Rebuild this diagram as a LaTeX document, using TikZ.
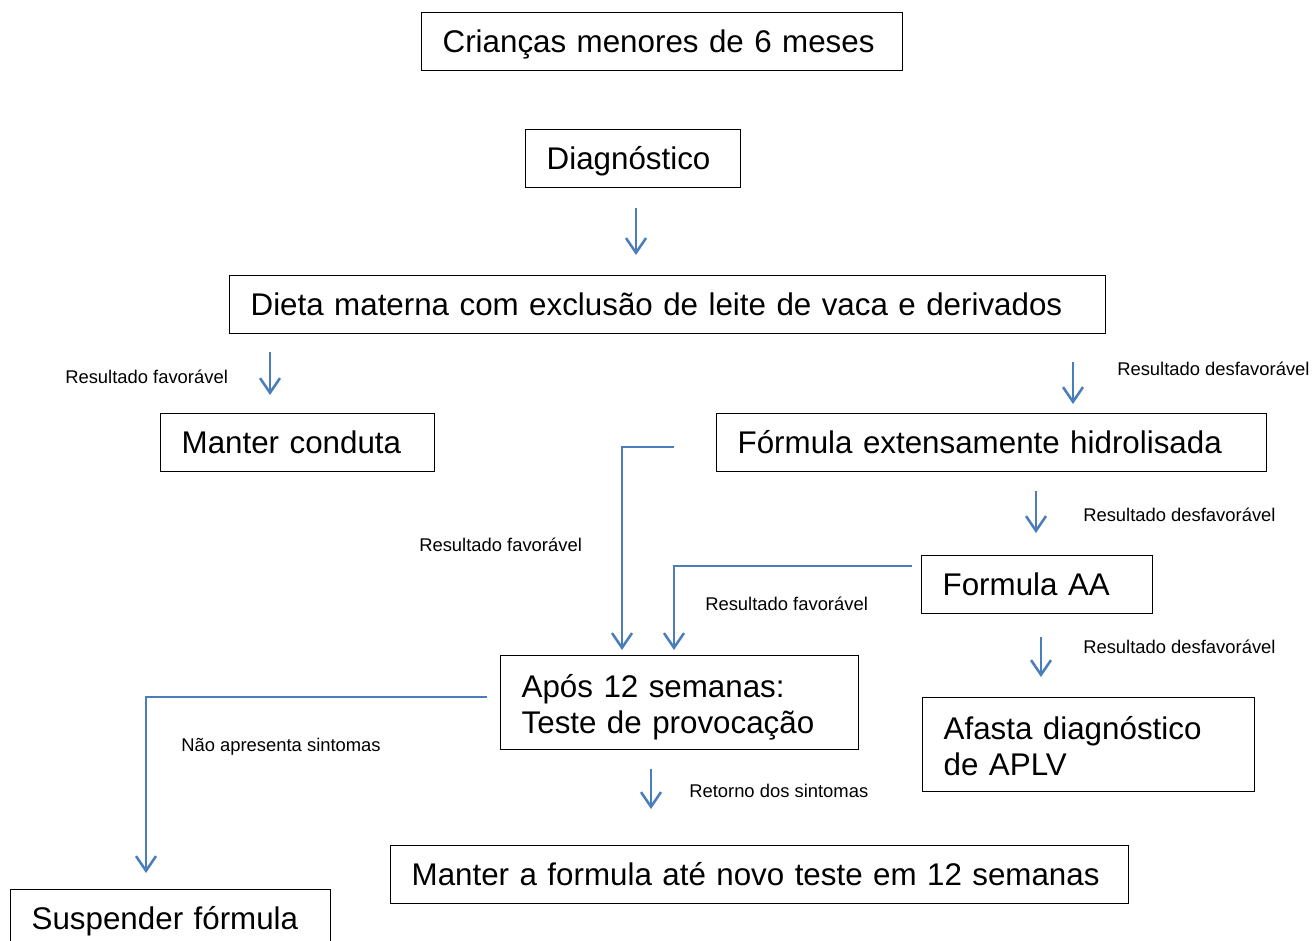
\documentclass[tikz,border=0pt]{standalone}
\usepackage{fontspec}
\setmainfont{Liberation Sans}
\usetikzlibrary{arrows.meta}
\usepackage{xcolor}
\definecolor{setaazul}{HTML}{4A7EBB}

\begin{document}
\begin{tikzpicture}[x=0.75pt, y=-0.75pt]
        % ================= Estilos =================
        \tikzset{
            % caixa: borda preta, texto alinhado à esquerda
            caixa/.style={draw=black, line width=1pt, anchor=north west, align=left, inner xsep=15.75pt, inner ysep=0pt, minimum height=43.5pt, text height=16pt, text depth=0pt, font=\fontsize{23.5}{27}\selectfont},
            % caixa de duas linhas
            caixa_dupla/.style={caixa, minimum height=70.5pt, text height=17pt, text depth=25.5pt},
            % rótulos pequenos ao lado das setas
            rotulo/.style={anchor=west, inner sep=0pt, font=\fontsize{13.8}{16}\selectfont},
            % setas azuis de ponta aberta
            seta/.style={draw=setaazul, line width=1.9pt, line join=miter, -{Straight Barb[length=11pt,width=15pt]}}
        }
        \useasboundingbox (0,0) rectangle (1314,940);
        \clip (0,0) rectangle (1314,940);

        % ================= Caixas =================
        \node[caixa, text width=329.25pt] (criancas) at (421,12) {Crianças menores de 6 meses};
        \node[caixa, text width=129.75pt] (diag) at (525,129) {Diagnóstico};
        \node[caixa, text width=625.5pt] (dieta) at (229,275) {Dieta materna com exclusão de leite de vaca e derivados};
        \node[caixa, text width=174pt] (conduta) at (160,413) {Manter conduta};
        \node[caixa, text width=381pt] (fext) at (716,413) {Fórmula extensamente hidrolisada};
        \node[caixa, text width=141.75pt] (faa) at (921,555) {Formula AA};
        \node[caixa_dupla, text width=237pt] (teste) at (500,655) {Após 12 semanas:\\Teste de provocação};
        \node[caixa_dupla, text width=217.5pt] (afasta) at (922,697) {Afasta diagnóstico\\de APLV};
        \node[caixa, text width=522pt] (manter) at (390,845) {Manter a formula até novo teste em 12 semanas};
        \node[caixa, text width=208.5pt] (suspender) at (10,889) {Suspender fórmula};

        % ================= Pontos das setas =================
        \coordinate (s1) at (636,208); \coordinate (e1) at (636,255);
        \coordinate (s2) at (270,352); \coordinate (e2) at (270,395);
        \coordinate (s3) at (1073,362); \coordinate (e3) at (1073,404);
        \coordinate (s4) at (674,447); \coordinate (e4) at (622,650);
        \coordinate (s5) at (1036,491); \coordinate (e5) at (1036,533);
        \coordinate (s6) at (912,566); \coordinate (e6) at (674,650);
        \coordinate (s7) at (1041,637); \coordinate (e7) at (1041,677);
        \coordinate (s8) at (487,697); \coordinate (e8) at (146,873);
        \coordinate (s9) at (651,769); \coordinate (e9) at (651,809);

        % ================= Setas =================
        \foreach \i in {1,2,3,5,7,9} \draw[seta] (s\i) -- (e\i);
        \draw[seta] (s4) -| (e4);
        \draw[seta] (s6) -| (e6);
        \draw[seta] (s8) -| (e8);

        % ================= Rótulos =================
        \node[rotulo] (fav1) at (65,377) {Resultado favorável};
        \node[rotulo] (des1) at (1117,369) {Resultado desfavorável};
        \node[rotulo] (fav2) at (419,545) {Resultado favorável};
        \node[rotulo] (des2) at (1083,515) {Resultado desfavorável};
        \node[rotulo] (fav3) at (705,604) {Resultado favorável};
        \node[rotulo] (des3) at (1083,647) {Resultado desfavorável};
        \node[rotulo] (nao) at (181,747) {Não apresenta sintomas};
        \node[rotulo] (ret) at (689,791) {Retorno dos sintomas};

    \end{tikzpicture}
\end{document}
